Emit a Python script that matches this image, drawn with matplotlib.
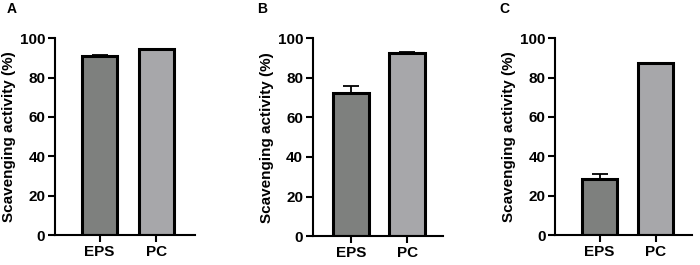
import matplotlib
matplotlib.use('Agg')
import matplotlib.pyplot as plt

plt.rcParams['font.family'] = ['Liberation Sans', 'DejaVu Sans']
plt.rcParams['font.weight'] = 'bold'

categories = ['EPS', 'PC']
panels = ['A', 'B', 'C']
values = {
    'A': [91.0, 94.3],
    'B': [72.5, 92.5],
    'C': [28.5, 87.2],
}
errors = {
    'A': [0.5, 0.4],
    'B': [3.5, 0.5],
    'C': [2.5, 0.4],
}
bar_colors = ['#7e807e', '#a7a7aa']

# axes boxes in figure fractions, xlims chosen to place bars like the reference
layout = {
    'A': ([0.0786, 0.113, 0.200, 0.743], (-0.79, 1.69), 0.62, 0.010),
    'B': ([0.447, 0.109, 0.186, 0.747], (-0.68, 1.64), 0.64, 0.367),
    'C': ([0.793, 0.113, 0.196, 0.743], (-0.79, 1.65), 0.63, 0.714),
}

fig = plt.figure(figsize=(7.0, 2.65), dpi=100)

for p in panels:
    rect, xlim, width, label_x = layout[p]
    ax = fig.add_axes(rect)
    ax.bar([0, 1], values[p], width=width, color=bar_colors,
           edgecolor='black', linewidth=2.2, zorder=2)
    ax.errorbar([0, 1], values[p], yerr=[[0, 0], errors[p]], fmt='none',
                ecolor='black', elinewidth=1.3, capsize=6, capthick=1.3, zorder=1)
    ax.set_xlim(*xlim)
    ax.set_ylim(0, 100)
    ax.set_yticks([0, 20, 40, 60, 80, 100])
    ax.set_xticks([0, 1])
    ax.set_xticklabels(categories)
    ax.set_ylabel('Scavenging activity (%)', fontsize=11, fontweight='bold',
                  labelpad=3)
    ax.tick_params(labelsize=11, width=1.5, length=5, pad=2)
    for s in ['top', 'right']:
        ax.spines[s].set_visible(False)
    for s in ['left', 'bottom']:
        ax.spines[s].set_linewidth(1.5)
    fig.text(label_x, 0.965, p, fontsize=10, fontweight='bold', va='center')

fig.savefig('out.png', dpi=100)
